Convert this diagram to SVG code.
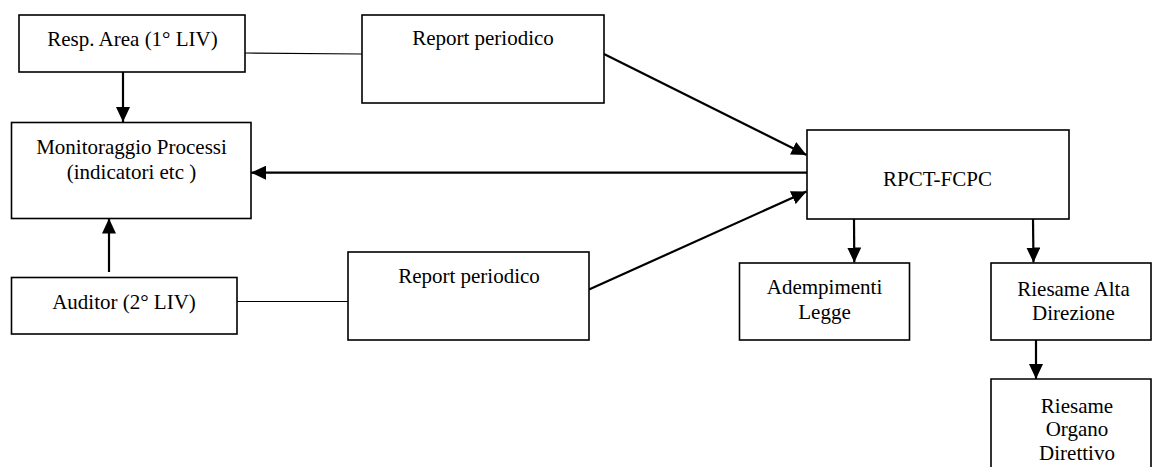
<svg xmlns="http://www.w3.org/2000/svg" width="1152" height="475" viewBox="0 0 1152 475">
<style>
.box{fill:#fff;stroke:#000;stroke-width:1.6}
.t{font-family:"Liberation Serif","Times New Roman",serif;font-size:21px;fill:#000;text-anchor:middle}
.arr{stroke:#000;stroke-width:2.2;fill:none;marker-end:url(#ah)}
.thin{stroke:#000;stroke-width:1.2;fill:none}
</style>
<defs>
<marker id="ah" markerUnits="userSpaceOnUse" markerWidth="16" markerHeight="14" refX="15" refY="7" orient="auto">
<path d="M0,0 L15,7 L0,14 Z" fill="#000"/>
</marker>
</defs>
<rect width="1152" height="475" fill="#fff"/>
<g id="connectors">
<line class="thin" x1="245" y1="53" x2="362" y2="54"/>
<line class="thin" x1="237" y1="301.5" x2="348" y2="301.5"/>
<line class="arr" x1="123" y1="72" x2="123" y2="122"/>
<line class="arr" x1="109" y1="272" x2="109" y2="218.5"/>
<line class="arr" x1="807" y1="172.7" x2="251" y2="172.7"/>
<line class="arr" x1="604" y1="54" x2="806.5" y2="155"/>
<line class="arr" x1="589" y1="289.5" x2="806.5" y2="191.5"/>
<line class="arr" x1="854" y1="219" x2="854.3" y2="262.5"/>
<line class="arr" x1="1033" y1="219" x2="1033.5" y2="262.5"/>
<line class="arr" x1="1036" y1="340" x2="1036" y2="379"/>
</g>
<g id="resp-area">
<rect class="box" x="19" y="15" width="226" height="57"/>
<text class="t" x="132.5" y="46">Resp. Area (1° LIV)</text>
</g>
<g id="report1">
<rect class="box" x="362" y="15" width="242" height="88"/>
<text class="t" x="483" y="45">Report periodico</text>
</g>
<g id="monitoraggio">
<rect class="box" x="11.5" y="122.5" width="239.5" height="96"/>
<text class="t" x="131.5" y="154">Monitoraggio Processi</text>
<text class="t" x="131.5" y="178.5">(indicatori etc )</text>
</g>
<g id="rpct">
<rect class="box" x="807" y="130" width="262" height="89"/>
<text class="t" x="937.5" y="185.5">RPCT-FCPC</text>
</g>
<g id="auditor">
<rect class="box" x="11.5" y="277.5" width="225.5" height="56.5"/>
<text class="t" x="124" y="309">Auditor (2° LIV)</text>
</g>
<g id="report2">
<rect class="box" x="348" y="252" width="241" height="88"/>
<text class="t" x="469" y="283">Report periodico</text>
</g>
<g id="adempimenti">
<rect class="box" x="739.5" y="263" width="170" height="77"/>
<text class="t" x="824.5" y="294">Adempimenti</text>
<text class="t" x="824.5" y="319">Legge</text>
</g>
<g id="riesame-alta">
<rect class="box" x="991" y="263" width="160" height="77"/>
<text class="t" x="1073.5" y="296">Riesame Alta</text>
<text class="t" x="1073.5" y="319.5">Direzione</text>
</g>
<g id="riesame-organo">
<path class="box" d="M991,467 V379 H1151 V467" fill="#fff"/>
<text class="t" x="1077" y="413">Riesame</text>
<text class="t" x="1077" y="436">Organo</text>
<text class="t" x="1077" y="460">Direttivo</text>
</g>
</svg>
